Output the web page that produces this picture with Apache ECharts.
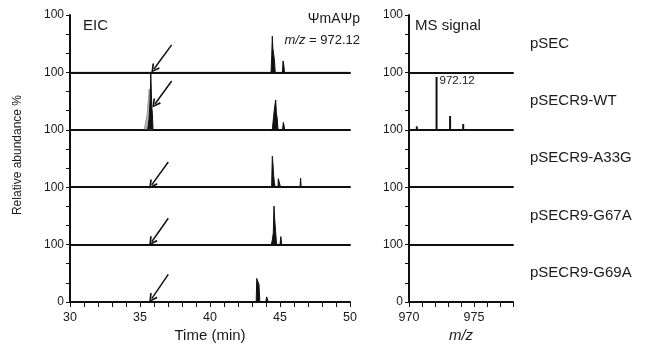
<!DOCTYPE html>
<html><head><meta charset="utf-8">
<script src="https://cdn.jsdelivr.net/npm/echarts@6/dist/echarts.min.js"></script>
<style>html,body{margin:0;padding:0;background:#fff}#c{width:649px;height:347px}</style>
</head><body><div id="c"></div>
<script>
// ---- data ----
const samples = ['pSEC', 'pSECR9-WT', 'pSECR9-A33G', 'pSECR9-G67A', 'pSECR9-G69A'];

const eic_pSEC = [[30,0],[31.85,0],[31.9,2],[31.95,0],[39.45,0],[39.5,2],[39.55,0],
  [44.36,0],[44.41,30],[44.45,63],[44.49,42],[44.55,40],[44.6,22],[44.66,0],
  [45.17,0],[45.22,20],[45.28,11],[45.32,0],[50,0]];
const eic_WT = [[30,0],[35.55,0],[35.65,20],[35.73,55],[35.77,100],[35.81,100],[35.84,40],[35.88,30],[35.93,0],
  [43.15,0],[43.2,2],[43.25,0],
  [44.45,0],[44.55,25],[44.62,40],[44.69,52],[44.74,30],[44.8,20],[44.86,0],
  [45.18,0],[45.24,13],[45.3,6],[45.34,0],[50,0]];
const eic_WT_grey = [[35.3,0],[35.5,25],[35.62,60],[35.66,71],[35.72,45],[35.8,15],[35.9,0]];
const eic_A33G = [[30,0],[44.4,0],[44.45,54],[44.5,40],[44.55,20],[44.6,8],[44.65,0],
  [44.86,0],[44.88,15],[45.02,15],[45.04,0],[46.43,0],[46.47,16],[46.51,0],[50,0]];
const eic_G67A = [[30,0],[44.38,0],[44.45,8],[44.52,20],[44.57,67],[44.62,45],[44.68,25],[44.74,5],[44.78,0],
  [45.0,0],[45.06,14],[45.12,0],[48.35,0],[48.4,3],[48.45,0],[50,0]];
const eic_G69A = [[30,0],[31.65,0],[31.7,2],[31.75,0],
  [43.3,0],[43.34,41],[43.42,38],[43.5,30],[43.56,0],
  [43.98,0],[44.05,9],[44.1,12],[44.16,0],[50,0]];
const eicRows = [eic_pSEC, eic_WT, eic_A33G, eic_G67A, eic_G69A];

const ms_WT = [[970.6,6],[972.12,92],[973.16,24],[974.17,10]];
const msPeakLabel = '972.12';

const timeTickLabels = [30, 35, 40, 45, 50];
const mzTickLabels = [970, 975];

// arrow annotations (time, abundance) per row: tail and head
const arrowTail = [[37.26,48],[37.26,85],[37.02,44],[37.02,46],[37.02,48]];
const arrowHead = [[36.0,6],[36.07,45],[35.84,4],[35.84,5],[35.84,6]];

// ---- layout ----
const FONT = 'Liberation Sans, Arial, Helvetica, sans-serif';
const TXT = '#1a1a1a';
const top0 = 15, H = 57.4;
const grids = [], xAxes = [], yAxes = [], series = [];

for (let i = 0; i < 5; i++) {
  grids.push({left: 70, width: 280, top: top0 + i * H, height: H});
  grids.push({left: 409, width: 104, top: top0 + i * H, height: H});
}

function yAxisFor(gi, i) {
  return {
    gridIndex: gi, type: 'value', min: 0, max: 100, interval: 100 / 3,
    axisLine: {show: true, lineStyle: {color: '#111', width: 2}},
    axisTick: {show: true, length: 4, lineStyle: {color: '#111', width: 1}},
    splitLine: {show: false},
    axisLabel: {
      show: true, margin: 6, color: TXT, fontFamily: FONT, fontSize: 12,
      showMinLabel: true, showMaxLabel: true,
      formatter: v => Math.round(v) === 100 ? '100' : (i === 4 && Math.round(v) === 0 ? '0' : '')
    }
  };
}

for (let i = 0; i < 5; i++) {
  const last = i === 4;
  xAxes.push({
    gridIndex: 2 * i, type: 'value', min: 30, max: 50, interval: 1,
    axisLine: {show: true, onZero: false, lineStyle: {color: '#111', width: 2}},
    axisTick: {show: last, length: 5, lineStyle: {color: '#111', width: 1}},
    splitLine: {show: false},
    axisLabel: {show: last, margin: 9, color: TXT, fontFamily: FONT, fontSize: 12.5,
      showMinLabel: true, showMaxLabel: true,
      formatter: v => timeTickLabels.includes(Math.round(v)) && Math.abs(v - Math.round(v)) < 1e-6 ? String(Math.round(v)) : ''},
    name: last ? 'Time (min)' : '', nameLocation: 'middle', nameGap: 26,
    nameTextStyle: {color: TXT, fontFamily: FONT, fontSize: 15}
  });
  xAxes.push({
    gridIndex: 2 * i + 1, type: 'value', min: 970, max: 978, interval: 1,
    axisLine: {show: true, onZero: false, lineStyle: {color: '#111', width: 2}},
    axisTick: {show: last, length: 5, lineStyle: {color: '#111', width: 1}},
    splitLine: {show: false},
    axisLabel: {show: last, margin: 9, color: TXT, fontFamily: FONT, fontSize: 12.5,
      showMinLabel: true, showMaxLabel: true,
      formatter: v => mzTickLabels.includes(Math.round(v)) ? String(Math.round(v)) : ''},
    name: last ? 'm/z' : '', nameLocation: 'middle', nameGap: 26,
    nameTextStyle: {color: TXT, fontFamily: FONT, fontSize: 15, fontStyle: 'italic'}
  });
  yAxes.push(yAxisFor(2 * i, i));
  yAxes.push(yAxisFor(2 * i + 1, i));
}

const chevron = 'path://M5,0 L10,8 L8.4,9 L5,3.2 L1.6,9 L0,8 Z';

for (let i = 0; i < 5; i++) {
  if (i === 1) {
    series.push({
      type: 'line', xAxisIndex: 2, yAxisIndex: 2, data: eic_WT_grey,
      symbol: 'none', lineStyle: {color: '#9a9a9a', width: 1},
      areaStyle: {color: '#b5b5b5', opacity: 1}, z: 2, animation: false, silent: true
    });
  }
  series.push({
    type: 'line', xAxisIndex: 2 * i, yAxisIndex: 2 * i, data: eicRows[i],
    symbol: 'none', lineStyle: {color: '#111', width: 1},
    areaStyle: {color: '#111', opacity: 1}, z: 3, animation: false, silent: true,
    markLine: {
      silent: true, animation: false, symbol: ['none', chevron], symbolSize: [9, 9],
      label: {show: false},
      lineStyle: {color: '#111', width: 1.5, type: 'solid'},
      data: [[{coord: arrowTail[i]}, {coord: arrowHead[i]}]]
    }
  });
}

series.push({
  type: 'bar', xAxisIndex: 3, yAxisIndex: 3, barWidth: 2,
  data: ms_WT.map((d) => ({
    value: d,
    label: d[0] === 972.12 ? {show: true, formatter: msPeakLabel, position: [4, -2],
      align: 'left', verticalAlign: 'top', color: TXT, fontFamily: FONT, fontSize: 11.5} : {show: false}
  })),
  itemStyle: {color: '#111'}, animation: false, silent: true
});

const graphic = [
  {type: 'text', left: 83, top: 18, style: {text: 'EIC', font: '15px ' + FONT, fill: TXT}},
  {type: 'text', left: 415, top: 18, style: {text: 'MS signal', font: '15px ' + FONT, fill: TXT}},
  {type: 'text', right: 649 - 360, top: 12, style: {text: 'ΨmAΨp', font: '14px ' + FONT, fill: TXT}},
  {type: 'text', right: 649 - 360, top: 34, style: {
    text: '{i|m/z} = 972.12', font: '13px ' + FONT, fill: TXT,
    rich: {i: {fontStyle: 'italic', fontFamily: FONT, fontSize: 13, fill: TXT}}}},
  {type: 'text', x: 18, y: 155, rotation: Math.PI / 2,
    style: {text: 'Relative abundance %', font: '12px ' + FONT, fill: TXT, align: 'center', verticalAlign: 'middle'}}
];
samples.forEach((s, i) => {
  graphic.push({type: 'text', x: 530, y: top0 + i * H + 28.5,
    style: {text: s, font: '15px ' + FONT, fill: TXT, verticalAlign: 'middle', align: 'left'}});
});

const chart = echarts.init(document.getElementById('c'), null, {renderer: 'canvas'});
chart.setOption({
  animation: false,
  backgroundColor: '#fff',
  grid: grids, xAxis: xAxes, yAxis: yAxes, series: series, graphic: graphic
});
</script>
</body></html>
